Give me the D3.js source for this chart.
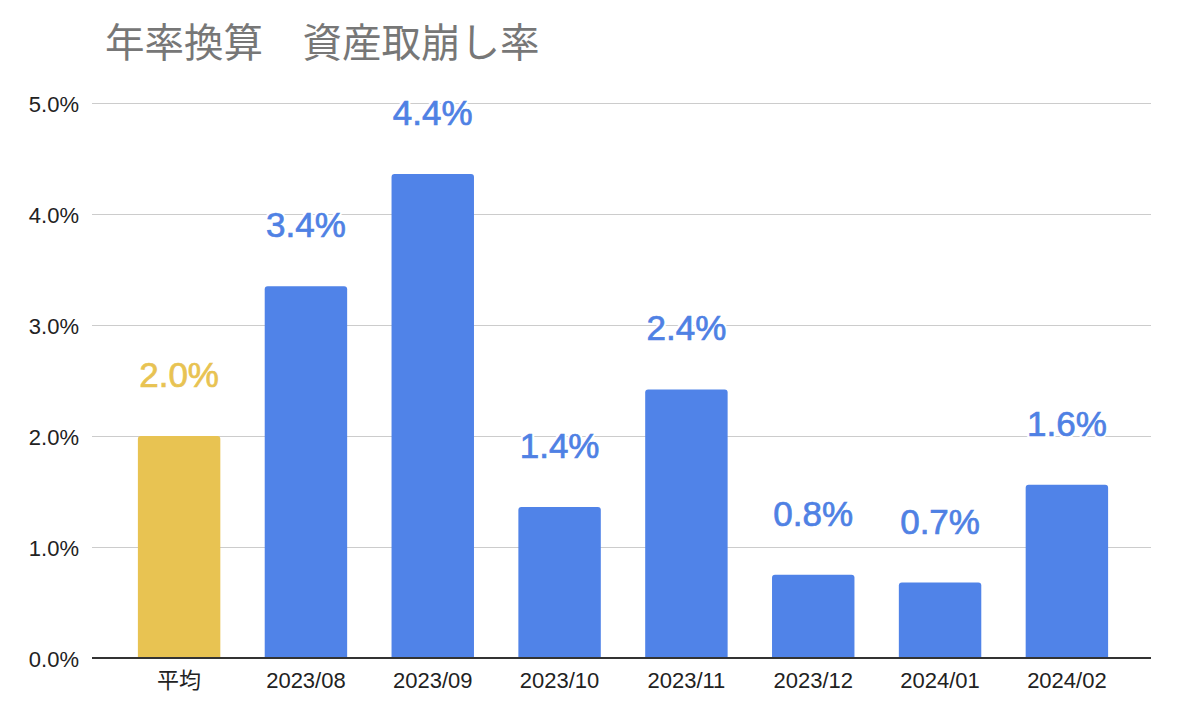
<!DOCTYPE html>
<html>
<head>
<meta charset="utf-8">
<script src="https://cdn.jsdelivr.net/npm/d3@7"></script>
<style>
html,body{margin:0;padding:0;background:#fff;}
svg{display:block;}
</style>
</head>
<body>
<svg id="chart" width="1178" height="722"></svg>
<script>
const title = "年率換算　資産取崩し率";
const categories = ["平均","2023/08","2023/09","2023/10","2023/11","2023/12","2024/01","2024/02"];
const values = [2.0, 3.35, 4.36, 1.36, 2.42, 0.75, 0.68, 1.56];
const barColors = ["#e8c352","#5083e8","#5083e8","#5083e8","#5083e8","#5083e8","#5083e8","#5083e8"];
const labelColors = ["#e8c352","#4f81e4","#4f81e4","#4f81e4","#4f81e4","#4f81e4","#4f81e4","#4f81e4"];
const yTicks = [0,1,2,3,4,5];

const svg = d3.select("#chart");
const plotLeft = 92, plotRight = 1151, plotTop = 103, plotBottom = 658;

const x = d3.scaleBand().domain(categories).range([plotLeft + 1.5, plotRight + 1.5]).paddingInner(0.35).paddingOuter(0.35);
const y = d3.scaleLinear().domain([0,5]).range([plotBottom, plotTop]);

const latin = "'Liberation Sans', Arial, Helvetica, sans-serif";
const cjk = "'Liberation Sans', 'Noto Sans CJK JP', sans-serif";

// title
svg.append("text").attr("x", 105).attr("y", 57)
  .attr("font-family", "'Noto Sans CJK JP', sans-serif")
  .attr("font-size", 39.5).attr("fill", "#777777").text(title);

// gridlines
svg.append("g").selectAll("line").data(yTicks.filter(d => d > 0)).join("line")
  .attr("x1", plotLeft).attr("x2", plotRight)
  .attr("y1", d => Math.round(y(d)) + 0.5).attr("y2", d => Math.round(y(d)) + 0.5)
  .attr("stroke", "#cccccc").attr("stroke-width", 1);

// y tick labels
svg.append("g").selectAll("text").data(yTicks).join("text")
  .attr("x", 79).attr("y", d => y(d) + 8.5)
  .attr("text-anchor", "end")
  .attr("font-family", latin).attr("font-size", 22).attr("fill", "#222")
  .text(d => d3.format(".1f")(d) + "%");

// bars with rounded tops
const r = 3;
svg.append("g").selectAll("path").data(values).join("path")
  .attr("d", (d, i) => {
    const x0 = x(categories[i]), w = x.bandwidth(), y0 = y(d), y1 = y(0);
    return `M${x0},${y1} L${x0},${y0 + r} Q${x0},${y0} ${x0 + r},${y0} L${x0 + w - r},${y0} Q${x0 + w},${y0} ${x0 + w},${y0 + r} L${x0 + w},${y1} Z`;
  })
  .attr("fill", (d, i) => barColors[i]);

// baseline
svg.append("line").attr("x1", plotLeft).attr("x2", plotRight)
  .attr("y1", y(0)).attr("y2", y(0))
  .attr("stroke", "#333").attr("stroke-width", 2);

// x tick labels
svg.append("g").selectAll("text").data(categories).join("text")
  .attr("x", d => x(d) + x.bandwidth() / 2).attr("y", 688)
  .attr("text-anchor", "middle")
  .attr("font-family", cjk).attr("font-size", 22).attr("fill", "#222")
  .text(d => d);

// value labels: white halo layer, then slightly emboldened text
const labelX = (d, i) => x(categories[i]) + x.bandwidth() / 2;
const labelY = d => y(d) - 49;
svg.append("g").selectAll("text").data(values).join("text")
  .attr("x", labelX).attr("y", labelY)
  .attr("text-anchor", "middle")
  .attr("font-family", latin).attr("font-size", 35)
  .attr("fill", "#fff").attr("stroke", "#fff").attr("stroke-width", 5)
  .attr("stroke-linejoin", "round")
  .text(d => d3.format(".1f")(d) + "%");
svg.append("g").selectAll("text").data(values).join("text")
  .attr("x", labelX).attr("y", labelY)
  .attr("text-anchor", "middle")
  .attr("font-family", latin).attr("font-size", 35)
  .attr("fill", (d, i) => labelColors[i])
  .attr("stroke", (d, i) => labelColors[i]).attr("stroke-width", 0.7)
  .text(d => d3.format(".1f")(d) + "%");
</script>
</body>
</html>
